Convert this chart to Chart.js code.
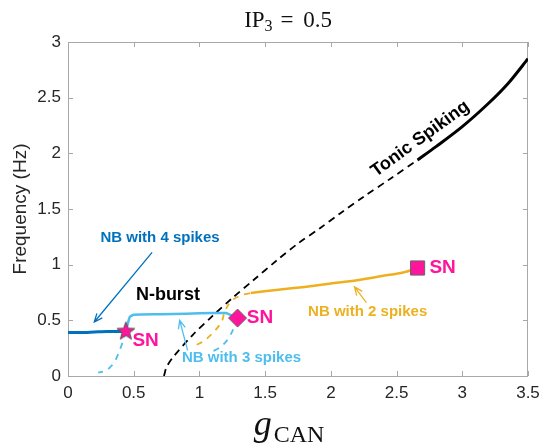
<!DOCTYPE html>
<html lang="en">
<head>
<meta charset="UTF-8">
<title>Frequency vs gCAN, IP3 = 0.5</title>
<script src="https://cdn.jsdelivr.net/npm/chart.js"></script>
<style>
  body { margin: 0; background: #fff; }
  #wrap { width: 541px; height: 445px; }
</style>
</head>
<body>
<div id="wrap"><canvas id="freqChart" width="541" height="445"></canvas></div>
<script>
// axis ticks
const xTicks = [0, 0.5, 1, 1.5, 2, 2.5, 3, 3.5];
const yTicks = [0, 0.5, 1, 1.5, 2, 2.5, 3];

// tonic spiking, stable
const tonicX = [2.66, 2.8, 3.0, 3.2, 3.35, 3.5];
const tonicY = [1.94, 2.06, 2.24, 2.45, 2.63, 2.85];

// N-burst / tonic branch, unstable
const unstableX = [0.73, 0.75, 0.80, 0.95, 1.10, 1.25, 1.41, 1.59, 1.75, 1.92, 2.07, 2.25, 2.45, 2.66];
const unstableY = [0.00, 0.08, 0.17, 0.37, 0.54, 0.70, 0.86, 1.04, 1.19, 1.33, 1.46, 1.61, 1.77, 1.94];

// NB with 4 spikes
const nb4X = [0, 0.1, 0.2, 0.3, 0.44];
const nb4Y = [0.39, 0.39, 0.395, 0.40, 0.40];

// NB with 3 spikes, stable and unstable parts
const nb3X = [0.44, 0.455, 0.47, 0.50, 0.7, 0.9, 1.1, 1.2, 1.29];
const nb3Y = [0.40, 0.47, 0.53, 0.55, 0.555, 0.56, 0.565, 0.565, 0.52];
const nb3LowX = [0.44, 0.42, 0.39, 0.36, 0.33, 0.29, 0.23];
const nb3LowY = [0.40, 0.32, 0.22, 0.14, 0.09, 0.05, 0.03];
const nb3HighX = [1.29, 1.25, 1.21, 1.16, 1.10];
const nb3HighY = [0.52, 0.40, 0.32, 0.26, 0.22];

// NB with 2 spikes
const nb2X = [1.39, 1.6, 1.8, 2.0, 2.2, 2.4, 2.55, 2.66];
const nb2Y = [0.745, 0.775, 0.80, 0.83, 0.86, 0.90, 0.93, 0.97];
const nb2DashX = [0.98, 1.04, 1.12, 1.17, 1.19, 1.22, 1.26, 1.33, 1.39];
const nb2DashY = [0.28, 0.32, 0.41, 0.49, 0.57, 0.64, 0.69, 0.73, 0.745];

// saddle-node points: star, diamond, square
const snX = [0.44, 1.29, 2.66];
const snY = [0.40, 0.52, 0.97];

const BLACK = '#000000';
const DARK_BLUE = '#0072BD';
const LIGHT_BLUE = '#4DBEEE';
const ORANGE = '#EDB120';
const PINK = '#FF149C';
const SANS = '"Liberation Sans", Arial, sans-serif';
const SERIF = '"Liberation Serif", "DejaVu Serif", serif';

function pts(xs, ys) {
    return xs.map((v, i) => ({ x: v, y: ys[i] }));
}

function curve(xs, ys, color, width, dash, tension) {
    return {
        data: pts(xs, ys),
        showLine: true,
        borderColor: color,
        borderWidth: width,
        borderDash: dash || [],
        pointRadius: 0,
        tension: tension === undefined ? 0.3 : tension,
        fill: false
    };
}

function starImage(size) {
    const c = document.createElement('canvas');
    c.width = c.height = size;
    const g = c.getContext('2d');
    const m = size / 2, r = size / 2 - 1.5, ri = r * 0.42;
    g.beginPath();
    for (let i = 0; i < 10; i++) {
        const rad = i % 2 ? ri : r;
        const a = -Math.PI / 2 + i * Math.PI / 5;
        g.lineTo(m + rad * Math.cos(a), m + rad * Math.sin(a));
    }
    g.closePath();
    g.fillStyle = PINK;
    g.fill();
    g.strokeStyle = '#555';
    g.lineWidth = 1;
    g.stroke();
    return c;
}

function marker(i, style, radius) {
    return {
        data: [{ x: snX[i], y: snY[i] }],
        pointStyle: style,
        pointRadius: radius,
        pointBackgroundColor: PINK,
        pointBorderColor: '#666',
        pointBorderWidth: 1,
        showLine: false
    };
}

const datasets = [
    marker(0, starImage(22), 10),
    marker(1, 'rectRot', 9),
    marker(2, 'rect', 10),
    curve(tonicX, tonicY, BLACK, 3),
    curve(nb4X, nb4Y, DARK_BLUE, 3),
    curve(nb3X, nb3Y, LIGHT_BLUE, 2.5, null, 0.15),
    curve(nb2X, nb2Y, ORANGE, 2.5),
    curve(nb3LowX, nb3LowY, LIGHT_BLUE, 1.8, [6, 6]),
    curve(nb3HighX, nb3HighY, LIGHT_BLUE, 1.8, [6, 6]),
    curve(nb2DashX, nb2DashY, ORANGE, 1.8, [6, 6]),
    curve(unstableX, unstableY, BLACK, 1.8, [7, 5])
];

// text labels, positioned in axis units
const labels = [
    { text: 'NB with 4 spikes', x: 0.70, y: 1.24, color: DARK_BLUE, size: 15 },
    { text: 'N-burst', x: 0.76, y: 0.73, color: BLACK, size: 18 },
    { text: 'SN', x: 0.49, y: 0.32, color: PINK, size: 19, align: 'left' },
    { text: 'SN', x: 1.36, y: 0.52, color: PINK, size: 19, align: 'left' },
    { text: 'SN', x: 2.75, y: 0.97, color: PINK, size: 19, align: 'left' },
    { text: 'NB with 3 spikes', x: 1.32, y: 0.16, color: LIGHT_BLUE, size: 15 },
    { text: 'NB with 2 spikes', x: 2.28, y: 0.575, color: ORANGE, size: 15 },
    { text: 'Tonic Spiking', x: 2.68, y: 2.13, color: BLACK, size: 18, rotate: -36 }
];

const arrows = [
    { from: [0.64, 1.11], to: [0.20, 0.485], color: DARK_BLUE },
    { from: [0.91, 0.23], to: [0.85, 0.50], color: LIGHT_BLUE },
    { from: [2.27, 0.66], to: [2.18, 0.80], color: ORANGE }
];

const decorations = {
    id: 'decorations',
    beforeDatasetsDraw(chart) {
        const { ctx, chartArea: a, scales: { x, y } } = chart;
        ctx.save();
        ctx.strokeStyle = '#a8a8a8';
        ctx.lineWidth = 1;
        ctx.strokeRect(a.left + 0.5, a.top + 0.5, a.right - a.left - 1, a.bottom - a.top);
        ctx.beginPath();
        xTicks.forEach(v => {
            const px = Math.round(x.getPixelForValue(v)) + 0.5;
            ctx.moveTo(px, a.bottom); ctx.lineTo(px, a.bottom - 5);
            ctx.moveTo(px, a.top); ctx.lineTo(px, a.top + 5);
        });
        yTicks.forEach(v => {
            const py = Math.round(y.getPixelForValue(v)) + 0.5;
            ctx.moveTo(a.left, py); ctx.lineTo(a.left + 5, py);
            ctx.moveTo(a.right, py); ctx.lineTo(a.right - 5, py);
        });
        ctx.stroke();
        ctx.restore();
    },
    afterDatasetsDraw(chart) {
        const { ctx, chartArea: a, scales: { x, y } } = chart;
        ctx.save();

        arrows.forEach(ar => {
            const x1 = x.getPixelForValue(ar.from[0]), y1 = y.getPixelForValue(ar.from[1]);
            const x2 = x.getPixelForValue(ar.to[0]), y2 = y.getPixelForValue(ar.to[1]);
            const ang = Math.atan2(y2 - y1, x2 - x1);
            ctx.strokeStyle = ar.color;
            ctx.lineWidth = 1.3;
            ctx.beginPath();
            ctx.moveTo(x1, y1); ctx.lineTo(x2, y2);
            ctx.moveTo(x2 - 9 * Math.cos(ang - 0.4), y2 - 9 * Math.sin(ang - 0.4));
            ctx.lineTo(x2, y2);
            ctx.lineTo(x2 - 9 * Math.cos(ang + 0.4), y2 - 9 * Math.sin(ang + 0.4));
            ctx.stroke();
        });

        labels.forEach(l => {
            ctx.save();
            ctx.translate(x.getPixelForValue(l.x), y.getPixelForValue(l.y));
            if (l.rotate) ctx.rotate(l.rotate * Math.PI / 180);
            ctx.font = 'bold ' + l.size + 'px ' + SANS;
            ctx.fillStyle = l.color;
            ctx.textAlign = l.align || 'center';
            ctx.textBaseline = 'middle';
            ctx.fillText(l.text, 0, 0);
            ctx.restore();
        });

        // title: IP_3 = 0.5
        const cx = 289;
        ctx.fillStyle = '#111';
        ctx.textBaseline = 'alphabetic';
        ctx.textAlign = 'left';
        const big = '23px ' + SERIF, small = '16px ' + SERIF;
        ctx.font = big;
        const wIP = ctx.measureText('IP').width;
        const wRest = ctx.measureText(' = 0.5').width + 8;
        ctx.font = small;
        const w3 = ctx.measureText('3').width;
        let tx = cx - (wIP + w3 + wRest) / 2;
        ctx.font = big; ctx.fillText('IP', tx, 27); tx += wIP;
        ctx.font = small; ctx.fillText('3', tx, 31); tx += w3 + 4;
        ctx.font = big;
        ctx.fillText('=', tx + 4, 27);
        ctx.fillText('0.5', tx + 4 + ctx.measureText('= ').width + 4, 27);

        // x axis title: g_CAN
        const gFont = 'italic 36px ' + SERIF, cFont = '24px ' + SERIF;
        ctx.font = gFont;
        const wg = ctx.measureText('g').width;
        ctx.font = cFont;
        const wc = ctx.measureText('CAN').width;
        let gx = cx - (wg + wc + 2) / 2;
        ctx.font = gFont; ctx.fillText('g', gx, 435);
        ctx.font = cFont; ctx.fillText('CAN', gx + wg + 2, 442);

        // y axis title
        ctx.save();
        ctx.translate(21, 209);
        ctx.rotate(-Math.PI / 2);
        ctx.textAlign = 'center';
        ctx.textBaseline = 'middle';
        ctx.font = '19px ' + SANS;
        ctx.fillStyle = '#262626';
        ctx.fillText('Frequency (Hz)', 0, 0);
        ctx.restore();

        ctx.restore();
    }
};

const tickFont = { family: SANS, size: 17 };
const tickText = v => String(v);

new Chart(document.getElementById('freqChart'), {
    type: 'scatter',
    data: { datasets: datasets },
    options: {
        responsive: false,
        animation: false,
        layout: { padding: { top: 42, right: 13, left: 0, bottom: 0 } },
        plugins: {
            legend: { display: false },
            tooltip: { enabled: false },
            title: { display: false }
        },
        scales: {
            x: {
                type: 'linear',
                min: 0, max: 3.5,
                afterBuildTicks: s => { s.ticks = xTicks.map(v => ({ value: v })); },
                ticks: { color: '#262626', font: tickFont, padding: 7, maxRotation: 0, callback: tickText },
                grid: { display: false, drawTicks: false },
                border: { display: false },
                afterFit: s => { s.height = 69; s.paddingLeft = 0; s.paddingRight = 0; }
            },
            y: {
                type: 'linear',
                min: 0, max: 3,
                afterBuildTicks: s => { s.ticks = yTicks.map(v => ({ value: v })); },
                ticks: { color: '#262626', font: tickFont, padding: 7, callback: tickText },
                grid: { display: false, drawTicks: false },
                border: { display: false },
                afterFit: s => { s.width = 68; s.paddingTop = 0; s.paddingBottom = 0; }
            }
        }
    },
    plugins: [decorations]
});
</script>
</body>
</html>
